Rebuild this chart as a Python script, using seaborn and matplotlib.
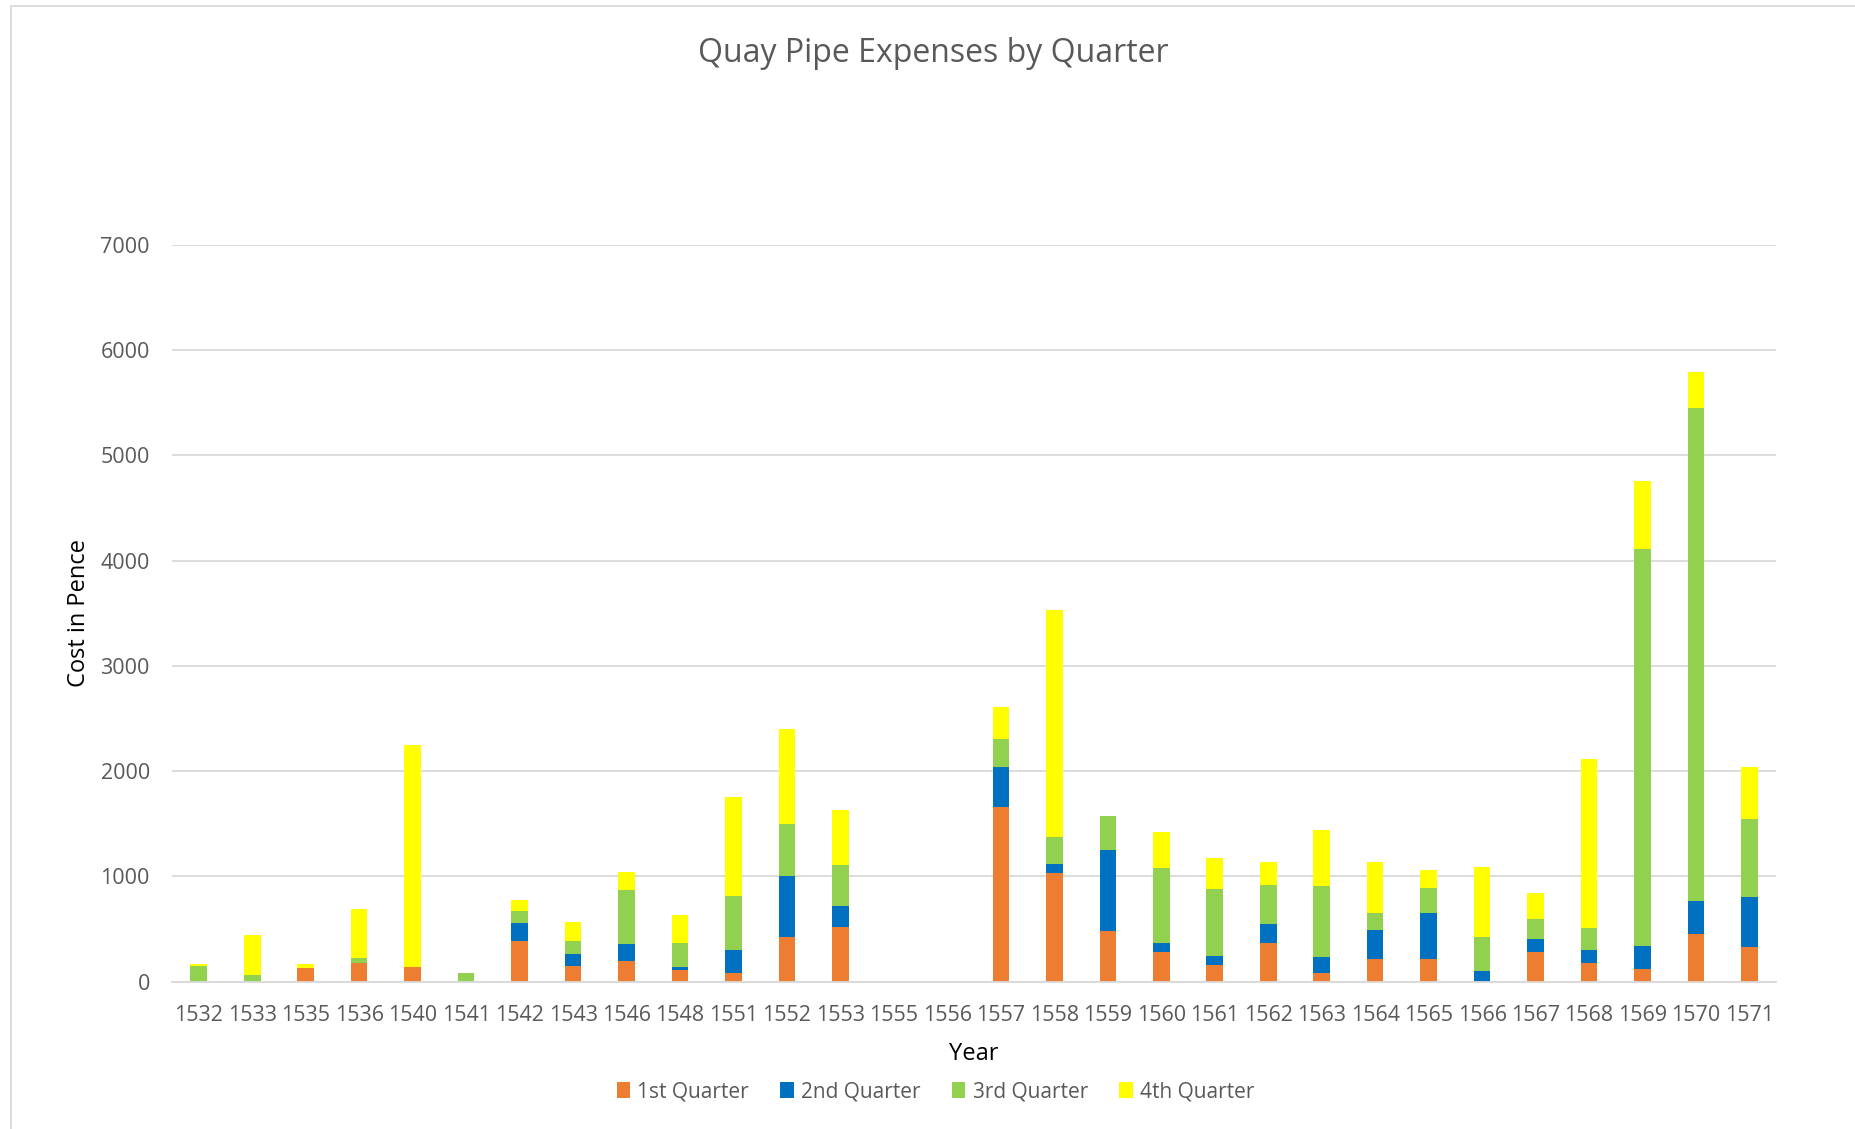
import pandas as pd
import seaborn as sns
import matplotlib.pyplot as plt
from matplotlib.patches import Patch
from matplotlib.lines import Line2D

years = ["1532", "1533", "1535", "1536", "1540", "1541", "1542", "1543", "1546", "1548",
         "1551", "1552", "1553", "1555", "1556", "1557", "1558", "1559", "1560", "1561",
         "1562", "1563", "1564", "1565", "1566", "1567", "1568", "1569", "1570", "1571"]
q1 = [0, 0, 133, 175, 143, 0, 386, 146, 197, 111,
      83, 427, 520, 0, 0, 1662, 1029, 481, 285, 159,
      368, 83, 218, 218, 0, 285, 178, 121, 453, 330]
q2 = [0, 0, 0, 0, 0, 0, 174, 120, 164, 29,
      221, 580, 202, 0, 0, 377, 89, 773, 83, 88,
      183, 149, 273, 437, 104, 123, 120, 221, 316, 477]
q3 = [152, 67, 0, 53, 0, 80, 111, 120, 513, 228,
      513, 493, 389, 0, 0, 269, 253, 320, 715, 633,
      370, 680, 164, 235, 323, 187, 215, 3767, 4679, 741]
q4 = [16, 373, 38, 462, 2105, 0, 105, 181, 168, 262,
      937, 900, 520, 0, 0, 304, 2156, 0, 336, 295,
      216, 532, 479, 174, 659, 247, 1602, 643, 342, 488]

quarters = ["1st Quarter", "2nd Quarter", "3rd Quarter", "4th Quarter"]
colors = ["#ED7D31", "#0070C0", "#92D050", "#FFFF00"]

df = pd.DataFrame({"Year": years, "Q1": q1, "Q2": q2, "Q3": q3, "Q4": q4})
df["c1"] = df["Q1"]
df["c2"] = df["c1"] + df["Q2"]
df["c3"] = df["c2"] + df["Q3"]
df["c4"] = df["c3"] + df["Q4"]

sns.set_style("white")
plt.rcParams["font.family"] = ["Open Sans", "DejaVu Sans"]

fig = plt.figure(figsize=(18.56, 11.29), dpi=100)
ax = fig.add_axes([0.0927, 0.1305, 0.8643, 0.6528])

# stacked bars: draw cumulative totals from the top segment down
for col, color in zip(["c4", "c3", "c2", "c1"], colors[::-1]):
    sns.barplot(data=df, x="Year", y=col, color=color, width=0.31,
                saturation=1, ax=ax, zorder=3, linewidth=0)

ax.set_ylim(0, 7000)
ax.set_xlim(-0.5, len(years) - 0.5)
ax.set_yticks(range(0, 7001, 1000))
ax.yaxis.grid(True, color="#D9D9D9", linewidth=1.3, zorder=0)
ax.set_axisbelow(True)
for s in ["top", "right", "left"]:
    ax.spines[s].set_visible(False)
ax.spines["bottom"].set_color("#D9D9D9")
ax.spines["bottom"].set_linewidth(1.3)
ax.spines["bottom"].set_zorder(4)
ax.tick_params(axis="both", length=0, labelsize=15.5, labelcolor="#595959")
ax.tick_params(axis="x", pad=17)
ax.tick_params(axis="y", pad=16)

ax.set_xlabel("Year", fontsize=17, color="black", labelpad=11)
ax.set_ylabel("Cost in Pence", fontsize=17, color="black", labelpad=7)

fig.text(0.503, 0.953, "Quay Pipe Expenses by Quarter", ha="center", va="center",
         fontsize=23, color="#595959")

handles = [Patch(facecolor=c, edgecolor="none", label=q) for q, c in zip(quarters, colors)]
fig.legend(handles=handles, loc="center", bbox_to_anchor=(0.504, 0.033), ncol=4,
           frameon=False, fontsize=15, handlelength=0.65, handleheight=0.75,
           handletextpad=0.35, columnspacing=1.5, labelcolor="#595959")

# chart frame
fig.add_artist(Line2D([0.006, 0.006], [0.0, 0.995], color="#D9D9D9", linewidth=1.3))
fig.add_artist(Line2D([0.006, 1.0], [0.995, 0.995], color="#D9D9D9", linewidth=1.3))

fig.savefig("out.png", dpi=100, facecolor="white")
